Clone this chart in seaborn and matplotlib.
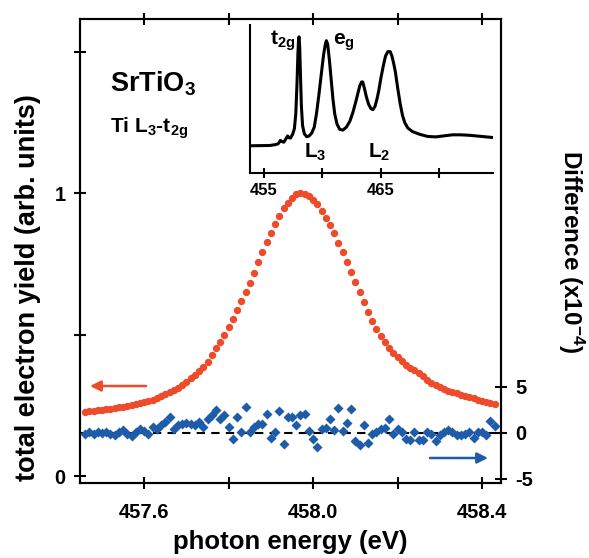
import numpy as np
import pandas as pd
import matplotlib
matplotlib.use("Agg")
import matplotlib.pyplot as plt
import seaborn as sns

# ---------------- data ----------------
energy_start = 457.46
energy_step = 0.01
tey = [0.226, 0.228, 0.230, 0.232, 0.234, 0.236, 0.238, 0.240, 0.243, 0.245,
       0.248, 0.251, 0.254, 0.257, 0.261, 0.265, 0.270, 0.277, 0.284, 0.291,
       0.298, 0.305, 0.312, 0.321, 0.332, 0.345, 0.358, 0.371, 0.385, 0.404,
       0.427, 0.452, 0.474, 0.500, 0.527, 0.555, 0.585, 0.617, 0.650, 0.682,
       0.718, 0.758, 0.793, 0.828, 0.858, 0.890, 0.920, 0.946, 0.966, 0.983,
       0.995, 1.000, 0.998, 0.990, 0.976, 0.960, 0.938, 0.913, 0.887, 0.858,
       0.825, 0.792, 0.757, 0.722, 0.686, 0.650, 0.614, 0.579, 0.548, 0.520,
       0.495, 0.472, 0.452, 0.435, 0.419, 0.405, 0.393, 0.382, 0.373, 0.363,
       0.352, 0.340, 0.330, 0.321, 0.313, 0.307, 0.301, 0.296, 0.292, 0.287,
       0.283, 0.279, 0.275, 0.270, 0.266, 0.262, 0.258, 0.254]
difference = [-0.11, 0.07, -0.11, 0.07, -0.04, 0.07, -0.11, -0.22, 0.07, 0.25,
              -0.11, -0.36, 0.07, 0.43, 0.14, -0.18, 0.60, 0.43, 0.80, 1.16,
              1.70, 0.43, 0.80, 0.98, 1.09, 0.98, 0.87, 1.16, 0.62, 1.52,
              1.88, 2.43, 1.52, 1.88, 0.62, -0.65, 1.70, 0.07, 2.79, 0.07,
              0.62, 0.98, 0.98, 2.07, -0.58, 0.07, 2.32, -1.27, 1.70, 1.70,
              0.80,
              1.88, 2.07, 0.14, -0.72, -1.56, 0.43, 0.51, 1.45, 0.25, 2.68,
              0.14, 1.09, 2.54, -0.94, -1.38, 0.80, -1.16, -0.11, 0.07, 0.43,
              0.51, 1.52, -0.11, 0.43, 0.07, -0.65, -0.83, 0.07, -0.83, -0.83,
              0.07, -0.11, -0.94, -0.29, 0.07, 0.25, 0.07, -0.22, -0.29, -0.11,
              0.07, -0.58, 0.07, 0.07, -0.29, 1.23, 0.72]
energy = [round(energy_start + i * energy_step, 2) for i in range(len(tey))]

inset_energy = [453.87, 455.50, 456.00, 456.22, 456.40, 456.55, 456.70, 456.90,
                457.02, 457.15, 457.27, 457.45, 457.60, 457.72, 457.82, 457.90,
                457.96, 458.00, 458.05, 458.12, 458.20, 458.30, 458.45, 458.65,
                458.85, 459.07, 459.30, 459.49, 459.70, 459.92, 460.10, 460.25,
                460.34, 460.45, 460.60, 460.75, 460.90, 461.05, 461.25, 461.48,
                461.75, 462.05, 462.35, 462.61, 462.85, 463.04, 463.20, 463.35,
                463.45, 463.60, 463.76, 463.95, 464.15, 464.32, 464.50, 464.70,
                464.83, 465.00, 465.20, 465.40, 465.60, 465.80, 465.95, 466.10,
                466.25, 466.45, 466.65, 466.85, 467.05, 467.30, 467.70, 468.30,
                469.00, 469.72, 470.50, 471.14, 471.80, 472.56, 473.50, 474.55]
inset_intensity = [0.184, 0.186, 0.192, 0.198, 0.220, 0.212, 0.208, 0.235,
                   0.250, 0.238, 0.236, 0.262, 0.300, 0.400, 0.600, 0.800,
                   0.910, 0.920, 0.860, 0.660, 0.450, 0.320, 0.265, 0.245,
                   0.250, 0.268, 0.310, 0.400, 0.530, 0.680, 0.800, 0.870,
                   0.894, 0.870, 0.760, 0.630, 0.500, 0.400, 0.330, 0.295,
                   0.290, 0.310, 0.350, 0.410, 0.480, 0.540, 0.590, 0.615,
                   0.615, 0.570, 0.515, 0.465, 0.435, 0.428, 0.450, 0.510,
                   0.560, 0.640, 0.720, 0.790, 0.820, 0.820, 0.790, 0.740,
                   0.680, 0.570, 0.470, 0.390, 0.340, 0.305, 0.280, 0.262,
                   0.247, 0.244, 0.252, 0.258, 0.258, 0.255, 0.248, 0.240]

x_ticks = [457.6, 457.8, 458.0, 458.2, 458.4]
x_ticklabels = ["457.6", "", "458.0", "", "458.4"]
y_ticks = [0, 0.5, 1, 1.5]
y_ticklabels = ["0", "", "1", ""]
y2_ticks = [-5, 0, 5]
y2_ticklabels = ["-5", "0", "5"]
inset_ticks = [455, 460, 465, 470]
inset_ticklabels = ["455", "", "465", ""]

df = pd.DataFrame({"energy": energy, "tey": tey, "diff": difference})
df_in = pd.DataFrame({"energy": inset_energy, "intensity": inset_intensity})

# ---------------- style ----------------
sns.set_style("ticks")
plt.rcParams["font.family"] = ["Liberation Sans", "DejaVu Sans"]
plt.rcParams["font.weight"] = "bold"
plt.rcParams["mathtext.fontset"] = "custom"
plt.rcParams["mathtext.rm"] = "Liberation Sans:bold"
plt.rcParams["mathtext.it"] = "Liberation Sans:bold"
plt.rcParams["mathtext.bf"] = "Liberation Sans:bold"
plt.rcParams["mathtext.default"] = "rm"
for k in ("text.color", "axes.labelcolor", "xtick.color", "ytick.color",
          "axes.edgecolor"):
    plt.rcParams[k] = "black"

RED = "#EE4B2B"
BLUE = "#1E5CAA"
W, H = 589, 558

fig = plt.figure(figsize=(W / 100, H / 100), dpi=100)
ax = fig.add_axes([80 / W, 1 - 483 / H, (501 - 80) / W, (483 - 19) / H])
ax2 = ax.twinx()

sns.scatterplot(data=df, x="energy", y="tey", ax=ax, color=RED, s=28,
                linewidth=0, marker="o", legend=False, zorder=3)
ax2.axhline(0, color="black", lw=1.5, ls=(0, (4, 3)), zorder=1)
sns.scatterplot(data=df, x="energy", y="diff", ax=ax2, color=BLUE, s=26,
                linewidth=0, marker="D", legend=False, zorder=3)

ax.set_xlim(457.448, 458.445)
ax.set_ylim(-0.0247, 1.615)
ax2.set_ylim(-5.47, 44.97)

ax.set_xticks(x_ticks)
ax.set_xticklabels(x_ticklabels)
ax.set_yticks(y_ticks)
ax.set_yticklabels(y_ticklabels)
ax2.set_yticks(y2_ticks)
ax2.set_yticklabels(y2_ticklabels)

for a in (ax, ax2):
    for sp in a.spines.values():
        sp.set_visible(True)
        sp.set_linewidth(1.5)
        sp.set_color("black")
ax.tick_params(axis="both", direction="inout", length=9, width=1.5,
               labelsize=14.5, top=True, pad=6)
ax.tick_params(axis="x", pad=10)
ax2.tick_params(axis="y", direction="inout", length=9, width=1.5,
                labelsize=14.5, pad=6)
for lab in ax.get_xticklabels() + ax.get_yticklabels() + ax2.get_yticklabels():
    lab.set_fontweight("bold")

ax.set_xlabel("photon energy (eV)", fontsize=18.5, fontweight="bold", labelpad=6)
ax.set_ylabel("total electron yield (arb. units)", fontsize=19.5,
              fontweight="bold")
ax.yaxis.set_label_coords((41 - 80) / (501 - 80), 1 - (288 - 19) / (483 - 19))
ax2.set_ylabel(r"Difference (x10$^{-4}$)", fontsize=17.5, fontweight="bold",
               rotation=270)
ax2.yaxis.set_label_coords(1.0 + (586 - 501) / (501 - 80), 1 - (251 - 19) / (483 - 19))

# texts
fig.text(110 / W, 1 - 91 / H, r"SrTiO$_{3}$", fontsize=19.5, fontweight="bold")
fig.text(110 / W, 1 - 133 / H, r"Ti L$_{3}$-t$_{2g}$", fontsize=15, fontweight="bold")

# arrows
ax.annotate("", xy=(90 / W, 1 - 386 / H), xytext=(146 / W, 1 - 386 / H),
            xycoords="figure fraction", textcoords="figure fraction",
            arrowprops=dict(arrowstyle="-|>", color=RED, lw=1.8,
                            mutation_scale=16, shrinkA=0, shrinkB=0))
ax.annotate("", xy=(488 / W, 1 - 458 / H), xytext=(430 / W, 1 - 458 / H),
            xycoords="figure fraction", textcoords="figure fraction",
            arrowprops=dict(arrowstyle="-|>", color=BLUE, lw=1.8,
                            mutation_scale=16, shrinkA=0, shrinkB=0))

# inset
axin = fig.add_axes([250 / W, 1 - 173 / H, (493 - 250) / W, (173 - 25) / H])
sns.lineplot(data=df_in, x="energy", y="intensity", ax=axin, color="black",
             lw=2.2, legend=False)
axin.set_xlim(453.8, 474.6)
axin.set_ylim(0, 1)
axin.set_xticks(inset_ticks)
axin.set_xticklabels(inset_ticklabels)
axin.set_yticks([])
axin.set_xlabel("")
axin.set_ylabel("")
axin.patch.set_alpha(0)
for s in ("top", "right"):
    axin.spines[s].set_visible(False)
for s in ("left", "bottom"):
    axin.spines[s].set_linewidth(1.5)
    axin.spines[s].set_color("black")
axin.tick_params(axis="x", direction="inout", length=7, width=1.5,
                 labelsize=12, pad=4)
for lab in axin.get_xticklabels():
    lab.set_fontweight("bold")

fig.text(270 / W, 1 - 45 / H, r"t$_{2g}$", fontsize=15, fontweight="bold")
fig.text(333 / W, 1 - 45 / H, r"e$_{g}$", fontsize=15, fontweight="bold")
fig.text(304 / W, 1 - 158 / H, r"L$_{3}$", fontsize=15, fontweight="bold")
fig.text(368 / W, 1 - 158 / H, r"L$_{2}$", fontsize=15, fontweight="bold")

fig.savefig("out.png", dpi=100)
